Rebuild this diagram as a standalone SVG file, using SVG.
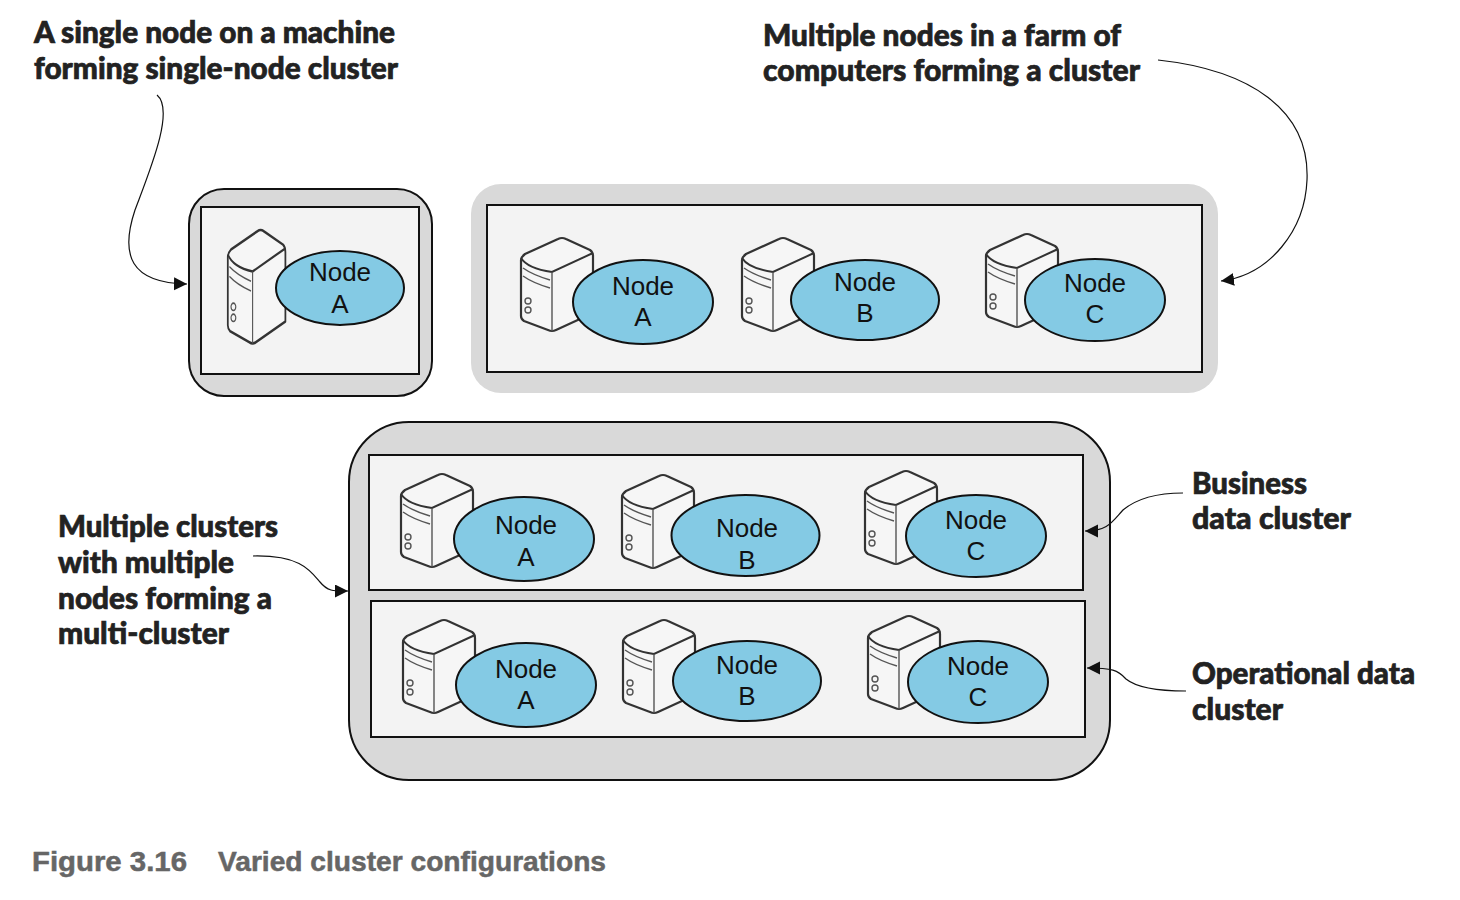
<svg xmlns="http://www.w3.org/2000/svg" xmlns:xlink="http://www.w3.org/1999/xlink" width="1460" height="900" viewBox="0 0 1460 900">
<style>
.outer{fill:#d9d9d9;stroke:#111;stroke-width:2}
.outer2{fill:#d9d9d9}
.inner{fill:#f3f3f3;stroke:#111;stroke-width:2}
.oval{fill:#84cae4;stroke:#111;stroke-width:2}
.lbl{font-family:"Liberation Sans",Arial,sans-serif;font-size:26px;fill:#111;text-anchor:middle}
.note{font-family:Lato,"Open Sans",sans-serif;font-weight:900;font-size:30px;fill:#222;stroke:#222;stroke-width:.7}
.cap{font-family:"Liberation Sans",Arial,sans-serif;font-weight:700;font-size:27px;fill:#666;stroke:#666;stroke-width:.5}
.conn{fill:none;stroke:#111;stroke-width:1.2;marker-end:url(#arrow)}
.sv{fill:#f6f6f6;stroke:#333;stroke-width:2.2;stroke-linejoin:round}
.svl{fill:none;stroke:#333;stroke-width:2}
.sv2{fill:none;stroke:#555;stroke-width:1.4}
</style>
<defs>
<marker id="arrow" markerUnits="userSpaceOnUse" markerWidth="14" markerHeight="14" refX="13" refY="6.5" orient="auto"><path d="M0 0L13 6.5L0 13Z" fill="#111"/></marker>
<g id="server">
<path class="sv" d="M1 22Q1 19 5 16L38 1Q42 -1 46 1L70 12Q73 14 73 18V75L36 92Q32 94 28 92L4 83Q1 81 1 78Z"/>
<path class="svl" d="M1 20C6 28 18 32 32 34L73 15"/>
<path class="sv2" stroke-width="2" d="M32 34V93"/>
<path class="sv2" d="M3 30C10 35 20 39 30 42M3 38C10 43 20 47 30 50"/>
<circle class="sv2" cx="8" cy="63" r="3"/><circle class="sv2" cx="8" cy="72" r="3"/>
</g>
</defs>
<g id="cluster-single">
<rect class="outer" x="189" y="189" width="243" height="207" rx="35"/>
<rect class="inner" x="201" y="207" width="218" height="167"/>
</g>
<g id="cluster-farm">
<rect class="outer2" x="471" y="184" width="747" height="209" rx="30"/>
<rect class="inner" x="487" y="205" width="715" height="167"/>
</g>
<g id="cluster-multi">
<rect class="outer" x="349" y="422" width="761" height="358" rx="60"/>
<rect class="inner" x="369" y="455" width="714" height="135"/>
<rect class="inner" x="371" y="601" width="714" height="136"/>
</g>
<g id="connectors">
<path class="conn" d="M157 95C175 110 150 170 135 210C120 255 130 283 187 284"/>
<path class="conn" d="M1158 60C1250 70 1310 110 1307 180C1305 230 1270 275 1221 281"/>
<path class="conn" d="M253 556C300 555 310 570 320 582C328 592 335 591 348 591"/>
<path class="conn" d="M1183 493C1155 493 1135 500 1123 510C1112 522 1108 531 1085 531"/>
<path class="conn" d="M1186 691C1160 691 1137 688 1126 679C1118 670 1112 668 1087 668"/>
</g>
<g id="single-node-a"><use xlink:href="#server" href="#server" transform="translate(227 230) scale(.8 1.22)"/><ellipse class="oval" cx="340" cy="288" rx="64" ry="37"/><text class="lbl" x="340" y="281">Node</text><text class="lbl" x="340" y="313">A</text></g>
<g id="farm-node-a"><use href="#server" transform="translate(520 238)"/><ellipse class="oval" cx="643" cy="302" rx="70" ry="42"/><text class="lbl" x="643" y="295">Node</text><text class="lbl" x="643" y="326">A</text></g>
<g id="farm-node-b"><use href="#server" transform="translate(741 238)"/><ellipse class="oval" cx="865" cy="300" rx="74" ry="40"/><text class="lbl" x="865" y="291">Node</text><text class="lbl" x="865" y="322">B</text></g>
<g id="farm-node-c"><use href="#server" transform="translate(985 234)"/><ellipse class="oval" cx="1095" cy="300" rx="70" ry="41"/><text class="lbl" x="1095" y="292">Node</text><text class="lbl" x="1095" y="323">C</text></g>
<g id="business-node-a"><use href="#server" transform="translate(400 474)"/><ellipse class="oval" cx="524" cy="539" rx="70" ry="42"/><text class="lbl" x="526" y="534">Node</text><text class="lbl" x="526" y="566">A</text></g>
<g id="business-node-b"><use href="#server" transform="translate(621 475)"/><ellipse class="oval" cx="745.5" cy="535.5" rx="74" ry="40.5"/><text class="lbl" x="747" y="537">Node</text><text class="lbl" x="747" y="569">B</text></g>
<g id="business-node-c"><use href="#server" transform="translate(864 471)"/><ellipse class="oval" cx="976" cy="536" rx="70" ry="41"/><text class="lbl" x="976" y="529">Node</text><text class="lbl" x="976" y="560">C</text></g>
<g id="operational-node-a"><use href="#server" transform="translate(402 620)"/><ellipse class="oval" cx="526" cy="685" rx="70" ry="42"/><text class="lbl" x="526" y="678">Node</text><text class="lbl" x="526" y="709">A</text></g>
<g id="operational-node-b"><use href="#server" transform="translate(622 620)"/><ellipse class="oval" cx="747" cy="681" rx="74" ry="40"/><text class="lbl" x="747" y="674">Node</text><text class="lbl" x="747" y="705">B</text></g>
<g id="operational-node-c"><use href="#server" transform="translate(867 616)"/><ellipse class="oval" cx="978" cy="682" rx="70" ry="41"/><text class="lbl" x="978" y="675">Node</text><text class="lbl" x="978" y="706">C</text></g>
<g id="notes">
<text class="note" x="34" y="43" textLength="361" lengthAdjust="spacingAndGlyphs">A single node on a machine</text>
<text class="note" x="34" y="79" textLength="364" lengthAdjust="spacingAndGlyphs">forming single-node cluster</text>
<text class="note" x="763" y="46" textLength="358" lengthAdjust="spacingAndGlyphs">Multiple nodes in a farm of</text>
<text class="note" x="763" y="81" textLength="377" lengthAdjust="spacingAndGlyphs">computers forming a cluster</text>
<text class="note" x="58" y="537" textLength="220" lengthAdjust="spacingAndGlyphs">Multiple clusters</text>
<text class="note" x="58" y="573" textLength="176" lengthAdjust="spacingAndGlyphs">with multiple</text>
<text class="note" x="58" y="609" textLength="214" lengthAdjust="spacingAndGlyphs">nodes forming a</text>
<text class="note" x="58" y="644" textLength="171" lengthAdjust="spacingAndGlyphs">multi-cluster</text>
<text class="note" x="1192" y="494" textLength="115" lengthAdjust="spacingAndGlyphs">Business</text>
<text class="note" x="1192" y="529" textLength="159" lengthAdjust="spacingAndGlyphs">data cluster</text>
<text class="note" x="1192" y="684" textLength="223" lengthAdjust="spacingAndGlyphs">Operational data</text>
<text class="note" x="1192" y="720" textLength="91" lengthAdjust="spacingAndGlyphs">cluster</text>
</g>
<g id="caption">
<text class="cap" x="32" y="871" textLength="155" lengthAdjust="spacingAndGlyphs">Figure 3.16</text>
<text class="cap" x="218" y="871" textLength="388" lengthAdjust="spacingAndGlyphs">Varied cluster configurations</text>
</g>
</svg>
